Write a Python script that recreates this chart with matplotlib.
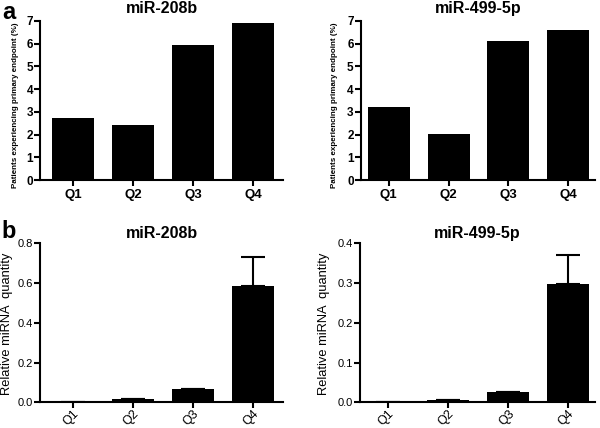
import matplotlib
matplotlib.use("Agg")
import matplotlib.pyplot as plt

plt.rcParams["font.family"] = ["Liberation Sans", "DejaVu Sans"]

quartiles = ["Q1", "Q2", "Q3", "Q4"]

# panel a: patients experiencing primary endpoint (%)
endpoint_208b = [2.74, 2.44, 5.94, 6.91]
endpoint_499 = [3.22, 2.02, 6.12, 6.62]

# panel b: relative miRNA quantity (mean, upper error)
quant_208b = [0.003, 0.018, 0.069, 0.586]
err_208b = [0, 0, 0, 0.145]
quant_499 = [0.002, 0.0067, 0.025, 0.298]
err_499 = [0, 0, 0, 0.071]

fig = plt.figure(figsize=(6, 4.28), dpi=100)


def style_axes(ax):
    for side in ("top", "right"):
        ax.spines[side].set_visible(False)
    for side in ("left", "bottom"):
        ax.spines[side].set_linewidth(1.5)
    ax.tick_params(direction="out", length=4, width=1.5, pad=1)


def top_panel(rect, values, title, xlim, label_x):
    ax = fig.add_axes(rect)
    ax.bar(range(4), values, width=0.7, color="black")
    ax.set_xlim(*xlim)
    ax.set_ylim(0, 7)
    ax.set_yticks(range(8))
    ax.set_xticks(range(4))
    ax.set_xticklabels(quartiles, fontsize=9.5, fontweight="bold")
    for lab in ax.get_yticklabels():
        lab.set_fontsize(8.5)
        lab.set_fontweight("bold")
    ax.set_ylabel("Patients experiencing primary endpoint (%)", fontsize=5.8,
                  fontweight="bold")
    # label anchor is its right edge
    ax.yaxis.set_label_coords(label_x, 0.47)
    ax.set_title(title, fontsize=11.5, fontweight="bold", pad=6)
    style_axes(ax)
    ax.tick_params(axis="x", pad=2)
    return ax


def bottom_panel(rect, values, errs, title, ymax, step, xlim, label_x):
    ax = fig.add_axes(rect)
    ax.bar(range(4), values, width=0.7, color="black",
           yerr=[[0] * 4, errs], capsize=8.5,
           error_kw=dict(elinewidth=1.5, capthick=1.5, ecolor="black"))
    ax.set_xlim(*xlim)
    ax.set_ylim(0, ymax)
    n = int(round(ymax / step))
    ax.set_yticks([i * step for i in range(n + 1)])
    ax.set_yticklabels(["%.1f" % (i * step) for i in range(n + 1)], fontsize=8)
    ax.set_xticks(range(4))
    ax.set_xticklabels(quartiles, fontsize=9, rotation=45, ha="right",
                       rotation_mode="anchor")
    ax.set_ylabel("Relative miRNA  quantity", fontsize=9.3)
    ax.yaxis.set_label_coords(label_x, 0.49)
    ax.set_title(title, fontsize=11.5, fontweight="bold", pad=4)
    style_axes(ax)
    ax.tick_params(axis="x", pad=0)
    return ax


top_panel([0.0667, 0.579, 0.405, 0.372], endpoint_208b, "miR-208b",
          (-0.55, 3.5), -0.086)
top_panel([0.601, 0.579, 0.391, 0.372], endpoint_499, "miR-499-5p",
          (-0.47, 3.45), -0.098)
bottom_panel([0.0667, 0.060, 0.405, 0.372], quant_208b, err_208b, "miR-208b",
             0.8, 0.2, (-0.55, 3.5), -0.111)
bottom_panel([0.600, 0.060, 0.392, 0.372], quant_499, err_499, "miR-499-5p",
             0.4, 0.1, (-0.47, 3.45), -0.128)

fig.text(0.003, 0.998, "a", fontsize=17, fontweight="bold", va="top")
fig.text(0.003, 0.487, "b", fontsize=17, fontweight="bold", va="top")

fig.savefig("out.png", dpi=100)
